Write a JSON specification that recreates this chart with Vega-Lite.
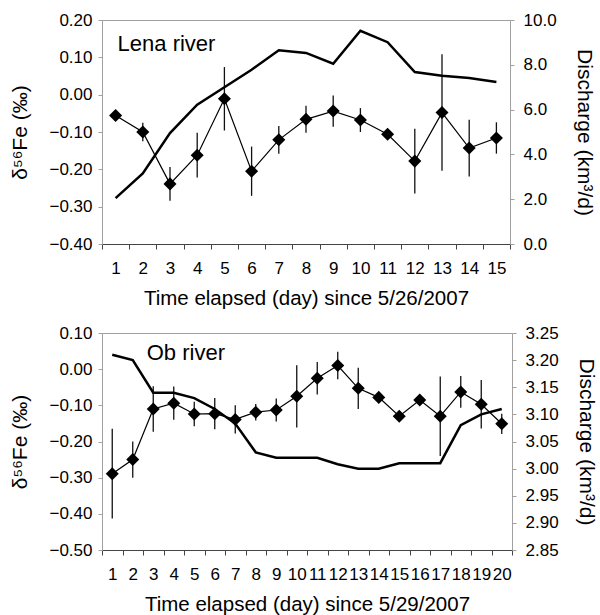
{
  "$schema": "https://vega.github.io/schema/vega-lite/v6.json",
  "padding": {"left": 9, "top": 10, "right": 5, "bottom": 1},
  "spacing": 14,
  "datasets": {
    "lena": [
      {"day": 1, "fe": -0.056, "err": 0.01, "q": 2.05},
      {"day": 2, "fe": -0.100, "err": 0.025, "q": 3.15},
      {"day": 3, "fe": -0.239, "err": 0.045, "q": 4.95},
      {"day": 4, "fe": -0.162, "err": 0.06, "q": 6.22},
      {"day": 5, "fe": -0.011, "err": 0.085, "q": 7.0},
      {"day": 6, "fe": -0.205, "err": 0.066, "q": 7.78},
      {"day": 7, "fe": -0.121, "err": 0.037, "q": 8.65},
      {"day": 8, "fe": -0.066, "err": 0.036, "q": 8.53},
      {"day": 9, "fe": -0.044, "err": 0.042, "q": 8.05},
      {"day": 10, "fe": -0.068, "err": 0.032, "q": 9.52},
      {"day": 11, "fe": -0.106, "err": 0.01, "q": 9.01},
      {"day": 12, "fe": -0.178, "err": 0.087, "q": 7.68},
      {"day": 13, "fe": -0.048, "err": 0.156, "q": 7.51},
      {"day": 14, "fe": -0.143, "err": 0.076, "q": 7.41},
      {"day": 15, "fe": -0.116, "err": 0.042, "q": 7.23}
    ],
    "ob": [
      {"day": 1, "fe": -0.289, "err": 0.124, "q": 3.21},
      {"day": 2, "fe": -0.250, "err": 0.05, "q": 3.20},
      {"day": 3, "fe": -0.110, "err": 0.063, "q": 3.14},
      {"day": 4, "fe": -0.094, "err": 0.046, "q": 3.14},
      {"day": 5, "fe": -0.124, "err": 0.034, "q": 3.13},
      {"day": 6, "fe": -0.123, "err": 0.043, "q": 3.11},
      {"day": 7, "fe": -0.139, "err": 0.039, "q": 3.083},
      {"day": 8, "fe": -0.119, "err": 0.023, "q": 3.03},
      {"day": 9, "fe": -0.113, "err": 0.032, "q": 3.02},
      {"day": 10, "fe": -0.075, "err": 0.086, "q": 3.02},
      {"day": 11, "fe": -0.025, "err": 0.045, "q": 3.02},
      {"day": 12, "fe": 0.010, "err": 0.038, "q": 3.008},
      {"day": 13, "fe": -0.053, "err": 0.057, "q": 3.0},
      {"day": 14, "fe": -0.078, "err": 0.01, "q": 3.0},
      {"day": 15, "fe": -0.130, "err": 0.01, "q": 3.01},
      {"day": 16, "fe": -0.085, "err": 0.01, "q": 3.01},
      {"day": 17, "fe": -0.130, "err": 0.11, "q": 3.01},
      {"day": 18, "fe": -0.063, "err": 0.044, "q": 3.08},
      {"day": 19, "fe": -0.097, "err": 0.067, "q": 3.10},
      {"day": 20, "fe": -0.151, "err": 0.028, "q": 3.11}
    ]
  },
  "vconcat": [
    {
      "data": {"name": "lena"},
      "width": 408,
      "height": 224,
      "encoding": {
        "x": {
          "field": "day", "type": "ordinal",
          "scale": {"type": "band", "paddingInner": 0, "paddingOuter": 0},
          "axis": {"title": "Time elapsed (day) since 5/26/2007", "tickBand": "extent", "labelAngle": 0, "labelOverlap": false}
        }
      },
      "layer": [
        {
          "encoding": {
            "y": {
              "field": "fe", "type": "quantitative",
              "scale": {"domain": [-0.4, 0.2], "nice": false, "zero": false},
              "axis": {"title": "δ⁵⁶Fe (‰)", "values": [-0.4, -0.3, -0.2, -0.1, 0, 0.1, 0.2], "format": ".2f", "orient": "left"}
            }
          },
          "layer": [
            {"mark": {"type": "errorbar", "color": "#111", "thickness": 1.3}, "encoding": {"yError": {"field": "err"}}},
            {"mark": {"type": "line", "color": "#000", "strokeWidth": 1.2}},
            {"mark": {"type": "point", "shape": "diamond", "filled": true, "color": "#000", "size": 170, "opacity": 1}},
            {
              "transform": [{"filter": "datum.day == 1"}],
              "mark": {"type": "text", "align": "left", "baseline": "middle", "dx": 2, "fontSize": 22, "font": "Liberation Sans", "color": "#000"},
              "encoding": {"y": {"datum": 0.135}, "text": {"value": "Lena river"}}
            }
          ]
        },
        {
          "mark": {"type": "line", "color": "#000", "strokeWidth": 2.5},
          "encoding": {
            "y": {
              "field": "q", "type": "quantitative",
              "scale": {"domain": [0, 10], "nice": false, "zero": false},
              "axis": {"title": "Discharge (km³/d)", "orient": "right", "values": [0, 2, 4, 6, 8, 10], "format": ".1f"}
            }
          }
        }
      ],
      "resolve": {"scale": {"y": "independent"}}
    },
    {
      "data": {"name": "ob"},
      "width": 410,
      "height": 217,
      "encoding": {
        "x": {
          "field": "day", "type": "ordinal",
          "scale": {"type": "band", "paddingInner": 0, "paddingOuter": 0},
          "axis": {"title": "Time elapsed (day) since 5/29/2007", "tickBand": "extent", "labelAngle": 0, "labelOverlap": false}
        }
      },
      "layer": [
        {
          "encoding": {
            "y": {
              "field": "fe", "type": "quantitative",
              "scale": {"domain": [-0.5, 0.1], "nice": false, "zero": false},
              "axis": {"title": "δ⁵⁶Fe (‰)", "values": [-0.5, -0.4, -0.3, -0.2, -0.1, 0, 0.1], "format": ".2f", "orient": "left"}
            }
          },
          "layer": [
            {"mark": {"type": "errorbar", "color": "#111", "thickness": 1.3}, "encoding": {"yError": {"field": "err"}}},
            {"mark": {"type": "line", "color": "#000", "strokeWidth": 1.2}},
            {"mark": {"type": "point", "shape": "diamond", "filled": true, "color": "#000", "size": 170, "opacity": 1}},
            {
              "transform": [{"filter": "datum.day == 2"}],
              "mark": {"type": "text", "align": "left", "baseline": "middle", "dx": 14, "fontSize": 22, "font": "Liberation Sans", "color": "#000"},
              "encoding": {"y": {"datum": 0.045}, "text": {"value": "Ob river"}}
            }
          ]
        },
        {
          "mark": {"type": "line", "color": "#000", "strokeWidth": 2.5},
          "encoding": {
            "y": {
              "field": "q", "type": "quantitative",
              "scale": {"domain": [2.85, 3.25], "nice": false, "zero": false},
              "axis": {"title": "Discharge (km³/d)", "orient": "right", "values": [2.85, 2.9, 2.95, 3.0, 3.05, 3.1, 3.15, 3.2, 3.25], "format": ".2f"}
            }
          }
        }
      ],
      "resolve": {"scale": {"y": "independent"}}
    }
  ],
  "config": {
    "font": "Liberation Sans",
    "view": {"stroke": "#a0a0a0", "strokeWidth": 1},
    "axis": {
      "grid": false,
      "labelFont": "Liberation Sans", "titleFont": "Liberation Sans",
      "labelFontSize": 17, "titleFontSize": 21, "titleFontWeight": "normal",
      "labelColor": "#000", "titleColor": "#000",
      "domainColor": "#a0a0a0", "tickColor": "#a0a0a0", "tickSize": 4
    },
    "axisX": {"domainColor": "#444", "tickColor": "#444", "tickSize": 5, "labelPadding": 11, "titlePadding": 12, "titleFontSize": 20.5},
    "axisLeft": {"labelPadding": 6, "titlePadding": 18},
    "axisRight": {"labelPadding": 9, "titlePadding": 17}
  }
}
